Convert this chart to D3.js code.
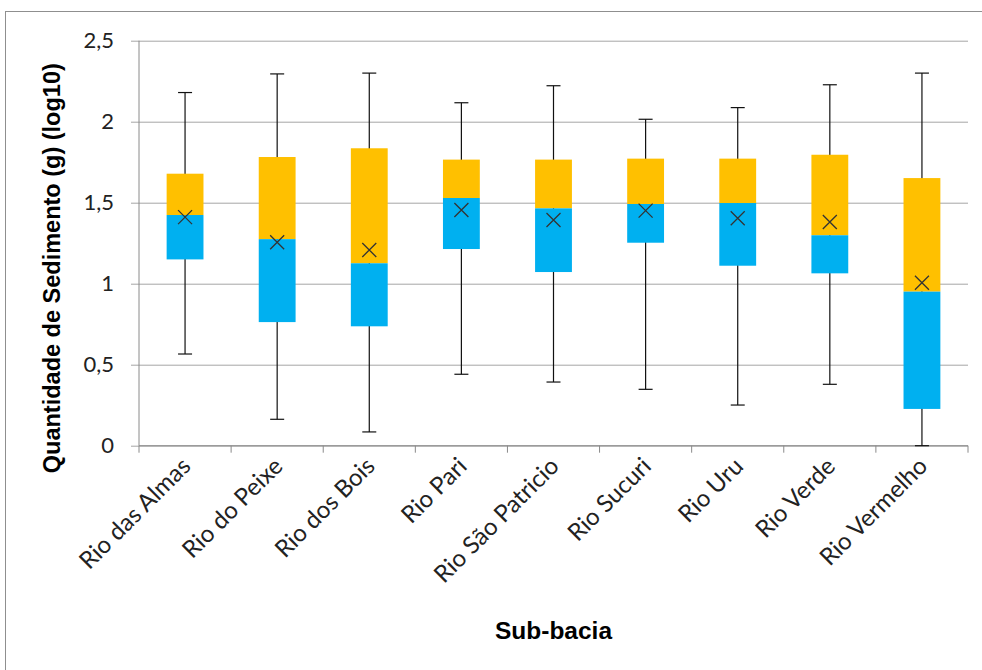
<!DOCTYPE html>
<html>
<head>
<meta charset="utf-8">
<script src="https://cdn.jsdelivr.net/npm/d3@7"></script>
<style>
  html, body { margin: 0; padding: 0; background: #fff; }
  svg { display: block; }
</style>
</head>
<body>
<svg id="chart" width="982" height="670"></svg>
<script>
// ---- data ----
const categories = ["Rio das Almas", "Rio do Peixe", "Rio dos Bois", "Rio Pari", "Rio São Patricio", "Rio Sucuri", "Rio Uru", "Rio Verde", "Rio Vermelho"];
const whiskerMax = [2.18, 2.295, 2.30, 2.117, 2.222, 2.015, 2.087, 2.228, 2.30];
const q3Values   = [1.679, 1.782, 1.836, 1.766, 1.766, 1.772, 1.772, 1.796, 1.652];
const medianValues = [1.424, 1.275, 1.126, 1.529, 1.465, 1.492, 1.498, 1.299, 0.951];
const q1Values   = [1.150, 0.763, 0.737, 1.214, 1.072, 1.253, 1.111, 1.064, 0.227];
const whiskerMin = [0.566, 0.163, 0.085, 0.441, 0.393, 0.348, 0.251, 0.379, 0.0];
const meanValues = [1.411, 1.256, 1.208, 1.455, 1.393, 1.451, 1.404, 1.381, 1.006];
const yTicks = [0, 0.5, 1, 1.5, 2, 2.5];
const yTickLabels = ["0", "0,5", "1", "1,5", "2", "2,5"];
const yTitle = "Quantidade de Sedimento (g) (log10)";
const xTitle = "Sub-bacia";

// ---- layout ----
const svg = d3.select("#chart");
const plot = { left: 139, right: 968, top: 40.7, bottom: 445.7 };

// outer frame
svg.append("rect")
  .attr("x", 5.5).attr("y", 11.5)
  .attr("width", 1000).attr("height", 700)
  .attr("fill", "none").attr("stroke", "#8f8f8f").attr("stroke-width", 1);

const x = d3.scaleBand().domain(categories).range([plot.left, plot.right]).paddingInner(0).paddingOuter(0);
const y = d3.scaleLinear().domain([0, 2.5]).range([plot.bottom, plot.top]);

// gridlines + y axis
const yAxis = d3.axisLeft(y)
  .tickValues(yTicks)
  .tickFormat((d, i) => yTickLabels[i])
  .tickSize(plot.right - plot.left + 8)
  .tickPadding(17);
const gy = svg.append("g").attr("transform", `translate(${plot.right},0)`).call(yAxis);
gy.select(".domain").remove();
gy.selectAll(".tick line").attr("stroke", "#a6a6a6").attr("stroke-width", 1);
gy.selectAll(".tick text")
  .attr("font-family", "Lato, 'Open Sans', sans-serif")
  .attr("font-size", 22)
  .attr("fill", "#222");

// y axis line
svg.append("line")
  .attr("x1", plot.left).attr("x2", plot.left)
  .attr("y1", plot.top).attr("y2", plot.bottom)
  .attr("stroke", "#8a8a8a").attr("stroke-width", 1);

// x axis
const gx = svg.append("g").attr("transform", `translate(0,${plot.bottom})`);
gx.append("line")
  .attr("x1", plot.left).attr("x2", plot.right)
  .attr("stroke", "#8a8a8a").attr("stroke-width", 1);
const boundaries = categories.map(c => x(c)).concat([x(categories[categories.length - 1]) + x.bandwidth()]);
gx.selectAll("line.xt").data(boundaries).enter().append("line")
  .attr("class", "xt")
  .attr("x1", d => d).attr("x2", d => d)
  .attr("y1", 0).attr("y2", 7)
  .attr("stroke", "#8a8a8a").attr("stroke-width", 1);

gx.selectAll("text.cat").data(categories).enter().append("text")
  .attr("class", "cat")
  .attr("transform", d => `translate(${x(d) + x.bandwidth() / 2 + 7},${22}) rotate(-45)`)
  .attr("text-anchor", "end")
  .attr("font-family", "Lato, 'Open Sans', sans-serif")
  .attr("font-size", 24)
  .attr("fill", "#222")
  .text(d => d);

// ---- boxes ----
const boxW = x.bandwidth() * 0.4;
const capW = 14;
const g = svg.append("g");
categories.forEach((c, i) => {
  const cx = x(c) + x.bandwidth() / 2;
  g.append("line")
    .attr("x1", cx).attr("x2", cx)
    .attr("y1", y(whiskerMin[i])).attr("y2", y(whiskerMax[i]))
    .attr("stroke", "#111").attr("stroke-width", 1.2);
  [whiskerMin[i], whiskerMax[i]].forEach(v => {
    g.append("line")
      .attr("x1", cx - capW / 2).attr("x2", cx + capW / 2)
      .attr("y1", y(v)).attr("y2", y(v))
      .attr("stroke", "#111").attr("stroke-width", 1.2);
  });
  g.append("rect")
    .attr("x", cx - boxW / 2).attr("width", boxW)
    .attr("y", y(q3Values[i])).attr("height", y(medianValues[i]) - y(q3Values[i]))
    .attr("fill", "#FFC000");
  g.append("rect")
    .attr("x", cx - boxW / 2).attr("width", boxW)
    .attr("y", y(medianValues[i])).attr("height", y(q1Values[i]) - y(medianValues[i]))
    .attr("fill", "#00B0F0");
  const my = y(meanValues[i]);
  const s = 7;
  g.append("path")
    .attr("d", `M${cx - s},${my - s}L${cx + s},${my + s}M${cx - s},${my + s}L${cx + s},${my - s}`)
    .attr("stroke", "#333").attr("stroke-width", 1.3).attr("fill", "none");
});

// ---- titles ----
svg.append("text")
  .attr("transform", `translate(${60},${(plot.top + plot.bottom) / 2 + 25}) rotate(-90)`)
  .attr("text-anchor", "middle")
  .attr("font-family", "'Liberation Sans', Arial, sans-serif")
  .attr("font-weight", "bold")
  .attr("font-size", 23.5)
  .attr("fill", "#000")
  .text(yTitle);

svg.append("text")
  .attr("x", 553.5).attr("y", 639)
  .attr("text-anchor", "middle")
  .attr("font-family", "'Liberation Sans', Arial, sans-serif")
  .attr("font-weight", "bold")
  .attr("font-size", 24.5)
  .attr("fill", "#000")
  .text(xTitle);
</script>
</body>
</html>
